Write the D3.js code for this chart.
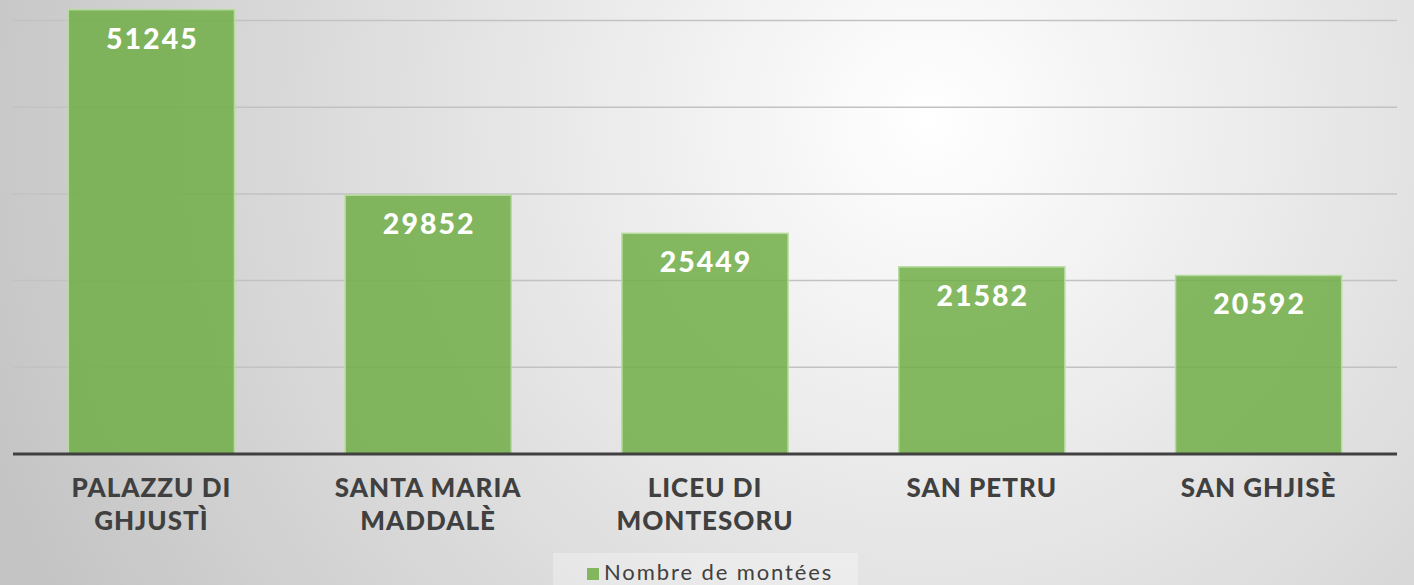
<!DOCTYPE html>
<html lang="en">
<head>
  <meta charset="UTF-8">
  <title>Nombre de montées</title>
  <script src="https://d3js.org/d3.v7.min.js"></script>
  <style>
    body { margin: 0; overflow: hidden; }
  </style>
</head>
<body>
  <script>
    // data
    const categories = [["PALAZZU DI", "GHJUSTÌ"], ["SANTA MARIA", "MADDALÈ"], ["LICEU DI", "MONTESORU"], ["SAN PETRU"], ["SAN GHJISÈ"]];
    const values = [51245, 29852, 25449, 21582, 20592];
    const gridTicks = [0, 10000, 20000, 30000, 40000, 50000];
    const seriesName = "Nombre de montées";

    const width = 1414, height = 585;
    const margin = { top: 20.5, right: 17, bottom: 131, left: 13 };

    const svg = d3.select("body").append("svg")
      .attr("width", width)
      .attr("height", height);

    // background
    const defs = svg.append("defs");
    const grad = defs.append("radialGradient")
      .attr("id", "bg")
      .attr("gradientUnits", "userSpaceOnUse")
      .attr("cx", 930).attr("cy", 120).attr("r", 1000);
    grad.append("stop").attr("offset", "0%").attr("stop-color", "#ffffff");
    grad.append("stop").attr("offset", "100%").attr("stop-color", "#c4c4c4");
    svg.append("rect").attr("width", width).attr("height", height).attr("fill", "url(#bg)");

    // scales
    const x = d3.scaleBand()
      .domain(d3.range(values.length))
      .range([margin.left, width - margin.right])
      .paddingInner(0.4)
      .paddingOuter(0.2);

    const y = d3.scaleLinear()
      .domain([0, 50000])
      .range([height - margin.bottom, margin.top]);

    // gridlines
    svg.append("g")
      .selectAll("line")
      .data(gridTicks.slice(1))
      .join("line")
      .attr("x1", margin.left).attr("x2", width - margin.right)
      .attr("y1", d => y(d)).attr("y2", d => y(d))
      .attr("stroke", "#c2c2c2")
      .attr("stroke-width", 1.5);

    // bars
    svg.append("g")
      .selectAll("rect")
      .data(values)
      .join("rect")
      .attr("x", (d, i) => x(i))
      .attr("y", d => y(d))
      .attr("width", x.bandwidth())
      .attr("height", d => y(0) - y(d))
      .attr("fill", "#70ad47")
      .attr("fill-opacity", 0.85)
      .attr("stroke", "#b5dc9c")
      .attr("stroke-width", 1.5);

    // value labels
    svg.append("g")
      .selectAll("text")
      .data(values)
      .join("text")
      .attr("x", (d, i) => x(i) + x.bandwidth() / 2 + 1)
      .attr("y", d => y(d) + 39)
      .attr("text-anchor", "middle")
      .attr("fill", "#ffffff")
      .style("font-family", "Lato, 'Open Sans', sans-serif")
      .style("font-weight", 900)
      .style("font-size", "28.5px")
      .style("letter-spacing", "2px")
      .text(d => d);

    // baseline axis
    const xAxis = svg.append("g")
      .attr("transform", `translate(0,${y(0)})`)
      .call(d3.axisBottom(x).tickSize(0).tickFormat(""));
    xAxis.select(".domain")
      .attr("stroke", "#404040")
      .attr("stroke-width", 3)
      .attr("d", `M${margin.left},0H${width - margin.right}`);

    // category labels
    const cat = svg.append("g")
      .selectAll("text")
      .data(categories)
      .join("text")
      .attr("x", (d, i) => x(i) + x.bandwidth() / 2)
      .attr("y", y(0) + 43)
      .attr("text-anchor", "middle")
      .attr("fill", "#404040")
      .style("font-family", "Lato, 'Open Sans', sans-serif")
      .style("font-weight", 900)
      .style("font-size", "26px")
      .style("letter-spacing", "1px");
    cat.selectAll("tspan")
      .data(d => d)
      .join("tspan")
      .attr("x", function () { return d3.select(this.parentNode).attr("x"); })
      .attr("dy", (d, i) => i === 0 ? 0 : 33)
      .text(d => d);

    // legend
    const legend = svg.append("g");
    legend.append("rect")
      .attr("x", 553).attr("y", 553).attr("width", 305).attr("height", 32)
      .attr("fill", "#ffffff").attr("fill-opacity", 0.3);
    legend.append("rect")
      .attr("x", 587).attr("y", 568).attr("width", 12).attr("height", 12)
      .attr("fill", "#70ad47").attr("fill-opacity", 0.85);
    legend.append("text")
      .attr("x", 604).attr("y", 580)
      .attr("fill", "#404040")
      .style("font-family", "Lato, 'Open Sans', sans-serif")
      .style("font-size", "22px")
      .style("letter-spacing", "1.9px")
      .text(seriesName);
  </script>
</body>
</html>
